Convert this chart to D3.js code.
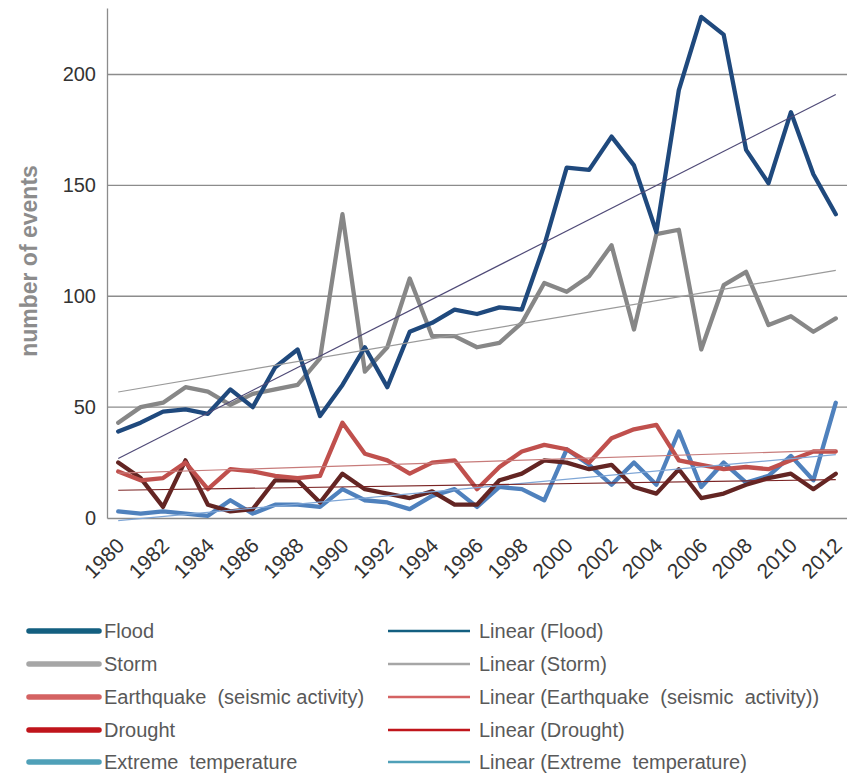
<!DOCTYPE html>
<html>
<head>
<meta charset="utf-8">
<script src="https://cdn.jsdelivr.net/npm/d3@7"></script>
<style>
  body { margin: 0; background: #fff; }
  svg { display: block; }
</style>
</head>
<body>
<svg id="chart" width="847" height="773"></svg>
<script>
// years 1980..2012
const years = d3.range(1980, 2013);
const yTicks = [0, 50, 100, 150, 200];
const xLabels = years.filter(y => y % 2 === 0);

const flood = [39, 43, 48, 49, 47, 58, 50, 68, 76, 46, 60, 77, 59, 84, 88, 94, 92, 95, 94, 123,
  158, 157, 172, 159, 129, 193, 226, 218, 166, 151, 183, 155, 137];
const storm = [43, 50, 52, 59, 57, 51, 56, 58, 60, 72, 137, 66, 77, 108, 82, 82, 77, 79, 88, 106,
  102, 109, 123, 85, 128, 130, 76, 105, 111, 87, 91, 84, 90];
const earthquake = [21, 17, 18, 25, 13, 22, 21, 19, 18, 19, 43, 29, 26, 20, 25, 26, 13, 23, 30, 33,
  31, 25, 36, 40, 42, 26, 24, 22, 23, 22, 26, 30, 30];
const drought = [25, 18, 5, 26, 6, 3, 4, 17, 17, 7, 20, 13, 11, 9, 12, 6, 6, 17, 20, 26,
  25, 22, 24, 14, 11, 22, 9, 11, 15, 18, 20, 13, 20];
const extremeTemp = [3, 2, 3, 2, 1, 8, 2, 6, 6, 5, 13, 8, 7, 4, 10, 13, 5, 14, 13, 8,
  31, 24, 15, 25, 15, 39, 14, 25, 16, 19, 28, 17, 52];

const seriesNames = ["Flood", "Storm", "Earthquake  (seismic activity)", "Drought", "Extreme  temperature"];
const trendNames = ["Linear (Flood)", "Linear (Storm)", "Linear (Earthquake  (seismic  activity))", "Linear (Drought)", "Linear (Extreme  temperature)"];

// drawing order: back to front
const series = [
  { values: extremeTemp, color: "#4f81bd", trend: "#7fa6d6", legend: "#4fa0b8", idx: 4 },
  { values: drought, color: "#632523", trend: "#7b2424", legend: "#c0151b", idx: 3 },
  { values: earthquake, color: "#c0504d", trend: "#c77b7a", legend: "#d46262", idx: 2 },
  { values: storm, color: "#878787", trend: "#9a9a9a", legend: "#a6a6a6", idx: 1 },
  { values: flood, color: "#1f497d", trend: "#4f4a77", legend: "#135f80", idx: 0 }
];

const svg = d3.select("#chart");
const plotLeft = 107, plotRight = 847, plotTop = 8, plotBottom = 518;

const x = d3.scalePoint().domain(years).range([plotLeft, plotRight]).padding(0.5);
const y = d3.scaleLinear().domain([0, 230]).range([plotBottom, plotTop]);

// gridlines
svg.append("g")
  .selectAll("line")
  .data(yTicks.filter(d => d > 0))
  .enter()
  .append("line")
  .attr("x1", plotLeft).attr("x2", plotRight)
  .attr("y1", d => y(d)).attr("y2", d => y(d))
  .attr("stroke", "#8c8c8c")
  .attr("stroke-width", 1.3);

const tickFont = "'Liberation Sans', Arial, sans-serif";

// axes
const yAxis = svg.append("g")
  .attr("transform", `translate(${plotLeft},0)`)
  .call(d3.axisLeft(y).tickValues(yTicks).tickSize(0).tickPadding(11));
yAxis.select(".domain").attr("stroke", "#8c8c8c").attr("stroke-width", 1.3);
yAxis.selectAll("text")
  .attr("font-family", tickFont)
  .attr("font-size", 20)
  .attr("fill", "#333");

const xAxis = svg.append("g")
  .attr("transform", `translate(0,${plotBottom})`)
  .call(d3.axisBottom(x).tickValues(xLabels).tickSize(0).tickFormat(d3.format("d")));
xAxis.select(".domain").attr("stroke", "#8c8c8c").attr("stroke-width", 1.3);
xAxis.selectAll("text")
  .attr("font-family", tickFont)
  .attr("font-size", 21)
  .attr("fill", "#333")
  .attr("text-anchor", "end")
  .attr("x", 0).attr("y", 0).attr("dy", 0)
  .attr("transform", "translate(7,29) rotate(-45)");

// y axis title
svg.append("text")
  .attr("transform", `translate(37,261) rotate(-90)`)
  .attr("text-anchor", "middle")
  .attr("font-family", "'Liberation Sans', Arial, sans-serif")
  .attr("font-weight", "bold")
  .attr("font-size", 23)
  .attr("fill", "#8c8c8c")
  .text("number of events");

// linear regression over index
function fitLine(vals) {
  const n = vals.length;
  const mx = d3.mean(vals, (v, i) => i);
  const my = d3.mean(vals);
  let sxy = 0, sxx = 0;
  vals.forEach((v, i) => { sxy += (i - mx) * (v - my); sxx += (i - mx) * (i - mx); });
  const b = sxy / sxx;
  const a = my - b * mx;
  return [a, a + b * (n - 1)];
}

const line = d3.line()
  .x((d, i) => x(years[i]))
  .y(d => y(d));

series.forEach(s => {
  svg.append("path")
    .datum(s.values)
    .attr("d", line)
    .attr("fill", "none")
    .attr("stroke", s.color)
    .attr("stroke-width", 4.3)
    .attr("stroke-linejoin", "round")
    .attr("stroke-linecap", "round");
});

series.forEach(s => {
  const ends = fitLine(s.values);
  svg.append("line")
    .attr("x1", x(years[0])).attr("x2", x(years[years.length - 1]))
    .attr("y1", y(ends[0])).attr("y2", y(ends[1]))
    .attr("stroke", s.trend)
    .attr("stroke-width", 1.2);
});

// legend
const legendRows = [631, 664, 697, 730, 762];
const legendFont = "'Liberation Sans', Arial, sans-serif";
const lg = svg.append("g");
series.forEach(s => {
  const ry = legendRows[s.idx];
  lg.append("line")
    .attr("x1", 29).attr("x2", 99).attr("y1", ry).attr("y2", ry)
    .attr("stroke", s.legend).attr("stroke-width", 5.5).attr("stroke-linecap", "round");
  lg.append("text")
    .attr("xml:space", "preserve")
    .attr("x", 104).attr("y", ry)
    .attr("dy", "0.33em")
    .attr("font-family", legendFont).attr("font-size", 20).attr("fill", "#595959")
    .text(seriesNames[s.idx]);
  lg.append("line")
    .attr("x1", 388).attr("x2", 470).attr("y1", ry).attr("y2", ry)
    .attr("stroke", s.legend).attr("stroke-width", 2.5);
  lg.append("text")
    .attr("xml:space", "preserve")
    .attr("x", 479).attr("y", ry)
    .attr("dy", "0.33em")
    .attr("font-family", legendFont).attr("font-size", 20).attr("fill", "#595959")
    .text(trendNames[s.idx]);
});
</script>
</body>
</html>
